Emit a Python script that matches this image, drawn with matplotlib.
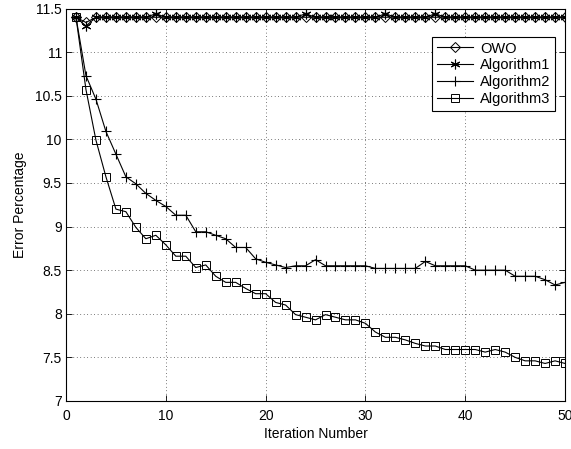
import matplotlib.pyplot as plt

iterations = list(range(1, 51))

owo = [11.4, 11.34, 11.4, 11.4, 11.4, 11.4, 11.4, 11.4, 11.4, 11.4,
       11.4, 11.4, 11.4, 11.4, 11.4, 11.4, 11.4, 11.4, 11.4, 11.4,
       11.4, 11.4, 11.4, 11.4, 11.4, 11.4, 11.4, 11.4, 11.4, 11.4,
       11.4, 11.4, 11.4, 11.4, 11.4, 11.4, 11.4, 11.4, 11.4, 11.4,
       11.4, 11.4, 11.4, 11.4, 11.4, 11.4, 11.4, 11.4, 11.4, 11.4]

algorithm1 = [11.4, 11.30, 11.4, 11.4, 11.4, 11.4, 11.4, 11.4, 11.44, 11.4,
              11.4, 11.4, 11.4, 11.4, 11.4, 11.4, 11.4, 11.4, 11.4, 11.4,
              11.4, 11.4, 11.4, 11.44, 11.4, 11.4, 11.4, 11.4, 11.4, 11.4,
              11.4, 11.44, 11.4, 11.4, 11.4, 11.4, 11.44, 11.4, 11.4, 11.4,
              11.4, 11.4, 11.4, 11.4, 11.4, 11.4, 11.4, 11.4, 11.4, 11.4]

algorithm2 = [11.4, 10.73, 10.46, 10.09, 9.83, 9.57, 9.49, 9.38, 9.30, 9.23,
              9.13, 9.13, 8.94, 8.94, 8.90, 8.86, 8.76, 8.76, 8.63, 8.59,
              8.56, 8.53, 8.55, 8.55, 8.62, 8.55, 8.55, 8.55, 8.55, 8.55,
              8.52, 8.52, 8.52, 8.52, 8.52, 8.60, 8.55, 8.55, 8.55, 8.55,
              8.50, 8.50, 8.50, 8.50, 8.43, 8.43, 8.43, 8.39, 8.33, 8.36]

algorithm3 = [11.4, 10.57, 9.99, 9.57, 9.20, 9.17, 8.99, 8.86, 8.90, 8.79,
              8.66, 8.66, 8.53, 8.56, 8.43, 8.36, 8.36, 8.29, 8.23, 8.23,
              8.13, 8.10, 7.99, 7.96, 7.93, 7.99, 7.96, 7.93, 7.93, 7.89,
              7.79, 7.73, 7.73, 7.70, 7.66, 7.63, 7.63, 7.59, 7.59, 7.59,
              7.59, 7.56, 7.59, 7.56, 7.50, 7.46, 7.46, 7.43, 7.46, 7.43]

plt.rcParams['font.family'] = ['Liberation Sans', 'DejaVu Sans']
plt.rcParams['font.size'] = 10

fig = plt.figure(figsize=(5.71, 4.49), dpi=100)
ax = fig.add_axes([0.1156, 0.107, 0.874, 0.874])

lw = 0.8
ax.plot(iterations, owo, color='black', lw=lw, marker='D', ms=5,
        mfc='none', mec='black', mew=0.7, label='OWO')
# MATLAB-style asterisk (line arms, not a filled star)
ax.plot(iterations, algorithm1, color='black', lw=lw, marker=(6, 2, 0), ms=7,
        mec='black', mew=0.8, label='Algorithm1')
ax.plot(iterations, algorithm2, color='black', lw=lw, marker='+', ms=7,
        mew=0.8, label='Algorithm2')
ax.plot(iterations, algorithm3, color='black', lw=lw, marker='s', ms=5.5,
        mfc='none', mec='black', mew=0.7, label='Algorithm3')

ax.set_xlim(0, 50)
ax.set_ylim(7, 11.5)
ax.set_xticks([0, 10, 20, 30, 40, 50])
ax.set_yticks([7, 7.5, 8, 8.5, 9, 9.5, 10, 10.5, 11, 11.5])
ax.set_yticklabels(['7', '7.5', '8', '8.5', '9', '9.5', '10', '10.5', '11', '11.5'])
ax.grid(True, color='black', linestyle=(0, (1, 4)), linewidth=0.5)
ax.tick_params(direction='in', top=True, right=True, length=4, width=0.6, pad=3)
ax.tick_params(axis='x', pad=6)
for s in ax.spines.values():
    s.set_linewidth(0.8)

ax.set_xlabel('Iteration Number', labelpad=3)
ax.set_ylabel('Error Percentage', labelpad=6)

leg = ax.legend(loc='upper right', bbox_to_anchor=(0.98, 0.927),
                borderaxespad=0, fancybox=False, framealpha=1,
                edgecolor='black', handlelength=2.5, handletextpad=0.5,
                labelspacing=0.2, borderpad=0.3, fontsize=10.5)
leg.get_frame().set_linewidth(0.8)

plt.savefig('out.png', dpi=100)
